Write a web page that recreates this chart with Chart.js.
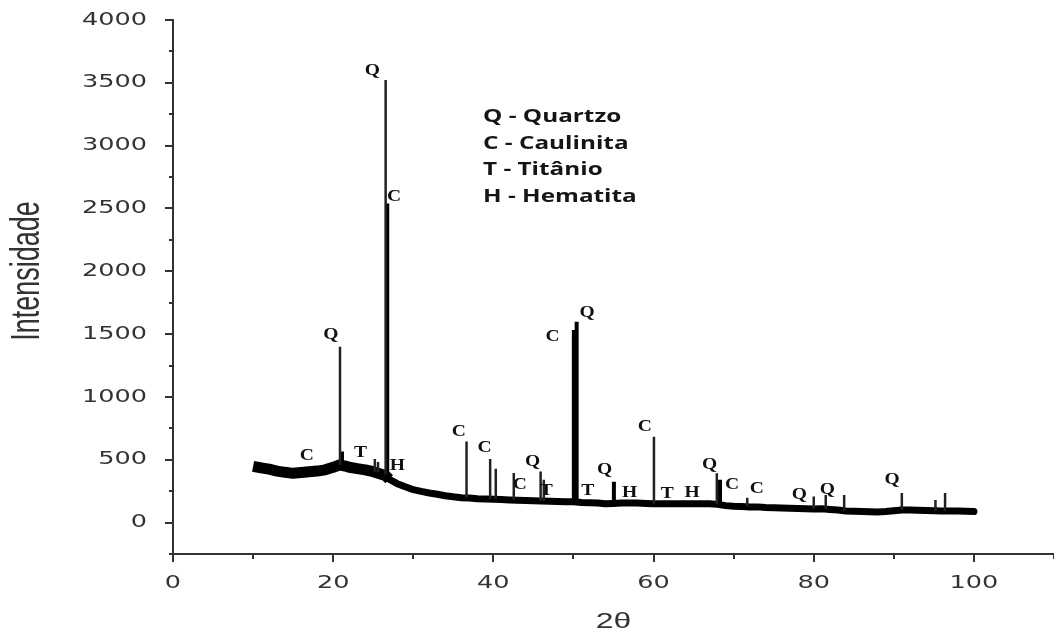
<!DOCTYPE html>
<html>
<head>
  <meta charset="UTF-8">
  <title>DRX</title>
  <script src="https://cdn.jsdelivr.net/npm/chart.js@4.4.1/dist/chart.umd.min.js"></script>
  <style>
    body { margin: 0; background: #fff; }
    #wrap { width: 1054px; height: 637px; }
  </style>
</head>
<body>
  <div id="wrap"><canvas id="myChart" width="1054" height="637"></canvas></div>

<script type="text/javascript">
  // baseline (2θ, intensity), low angle part (noisier, wider band)
  var baseX1 = [10, 10.5, 11, 12, 13, 14, 15, 16, 17, 18, 19, 20, 20.8, 21.5, 22, 23, 24, 25, 26, 26.5, 27];
  var baseY1 = [448, 442, 436, 425, 410, 400, 392, 398, 405, 410, 420, 440, 460, 450, 440, 430, 420, 405, 385, 375, 345];
  // high angle part
  var baseX2 = [27, 28, 29, 30, 31, 32, 33, 34, 35, 36, 37, 38, 39, 40, 41, 42, 43, 44, 45, 46, 47, 48, 49, 50,
    51, 52, 53, 54, 55, 56, 57, 58, 59, 60, 61, 62, 63, 64, 65, 66, 67, 68, 69, 70, 71, 72, 73, 74,
    75, 76, 77, 78, 79, 80, 81, 82, 83, 84, 85, 86, 87, 88, 89, 90, 91, 92, 93, 94, 95, 96, 97, 98, 99, 100];
  var baseY2 = [345, 310, 285, 262, 248, 236, 226, 214, 205, 198, 195, 190, 188, 185, 183, 180, 178, 176, 174, 172, 170, 168, 166, 165,
    160, 157, 155, 150, 152, 155, 155, 155, 152, 150, 150, 150, 150, 150, 150, 150, 150, 145, 135, 130, 128, 125, 125, 120,
    118, 117, 115, 112, 110, 108, 110, 105, 100, 93, 90, 88, 86, 85, 88, 95, 100, 100, 98, 96, 95, 93, 92, 92, 90, 88];

  // sharp reflections
  var peakX    = [20.85, 25.2, 25.6, 26.55, 36.65, 39.6, 40.3, 42.55, 45.9, 46.3, 60.05, 67.9, 71.7, 80.0, 81.5, 83.8, 91.0, 95.2, 96.4];
  var peakTop  = [1400, 507, 483, 3522, 645, 507, 428, 395, 406, 340, 684, 393, 197, 207, 220, 220, 236, 180, 236];
  var peakBase = [460, 405, 400, 380, 198, 188, 185, 180, 172, 172, 150, 145, 128, 108, 110, 93, 100, 95, 93];

  // strong / overlapped reflections
  var strongX    = [21.1, 26.75, 50.05, 50.4, 55.05, 68.3];
  var strongTop  = [565, 2540, 1532, 1599, 326, 340];
  var strongBase = [455, 375, 165, 165, 152, 145];

  var xTicks = [0, 20, 40, 60, 80, 100];
  var yTicks = [0, 500, 1000, 1500, 2000, 2500, 3000, 3500, 4000];

  // phase letters (text, 2θ, intensity)
  var phaseText = ['C', 'Q', 'T', 'Q', 'C', 'H', 'C', 'C', 'C', 'Q', 'T', 'C', 'Q', 'T', 'Q', 'H', 'C', 'T', 'H', 'Q', 'C', 'C', 'Q', 'Q', 'Q'];
  var phaseX = [16.7, 19.7, 23.4, 24.9, 27.6, 28.0, 35.7, 38.9, 43.3, 44.9, 46.6, 47.4, 51.7, 51.8, 53.9, 57.0, 58.9, 61.7, 64.8, 67.0, 69.8, 72.9, 78.2, 81.7, 89.8];
  var phaseY = [535, 1493, 555, 3600, 2597, 450, 722, 595, 300, 485, 255, 1478, 1669, 255, 420, 240, 762, 233, 240, 459, 300, 268, 220, 265, 340];

  var legendLines = ['Q - Quartzo', 'C - Caulinita', 'T - Titânio', 'H - Hematita'];

  function lineData(xs, tops, bases) {
    var pts = [];
    for (var i = 0; i < xs.length; i++) {
      pts.push({ x: xs[i], y: bases[i] });
      pts.push({ x: xs[i], y: tops[i] });
      pts.push({ x: xs[i], y: null });
    }
    return pts;
  }

  function xyData(xs, ys) {
    var pts = [];
    for (var i = 0; i < xs.length; i++) {
      pts.push({ x: xs[i], y: ys[i] });
    }
    return pts;
  }

  // stretched text helper (reference image is widened horizontally)
  function sText(ctx, txt, x, y, sx, align, base) {
    ctx.save();
    ctx.translate(x, y);
    ctx.scale(sx, 1);
    ctx.textAlign = align;
    ctx.textBaseline = base;
    ctx.fillText(txt, 0, 0);
    ctx.restore();
  }

  var decor = {
    id: 'decor',
    afterDraw: function (chart) {
      var ctx = chart.ctx;
      var xs = chart.scales.x, ys = chart.scales.y;
      ctx.save();

      // minor ticks
      ctx.strokeStyle = '#333';
      ctx.lineWidth = 2;
      ctx.beginPath();
      for (var v = -250; v <= 4000; v += 500) {
        var py = Math.round(ys.getPixelForValue(v));
        ctx.moveTo(xs.left - 4, py);
        ctx.lineTo(xs.left, py);
      }
      for (var u = 10; u <= 110; u += 20) {
        var px = Math.round(xs.getPixelForValue(u));
        ctx.moveTo(px, ys.bottom);
        ctx.lineTo(px, ys.bottom + 5);
      }
      ctx.stroke();

      // tick labels
      ctx.fillStyle = '#333';
      ctx.font = '18px "DejaVu Sans", sans-serif';
      yTicks.forEach(function (t) {
        sText(ctx, String(t), 147, ys.getPixelForValue(t), 1.42, 'right', 'middle');
      });
      xTicks.forEach(function (t) {
        sText(ctx, String(t), xs.getPixelForValue(t), 583, 1.42, 'center', 'middle');
      });

      // axis titles
      ctx.fillStyle = '#333';
      ctx.font = '22px "Liberation Sans", Arial, sans-serif';
      sText(ctx, '2θ', (xs.left + xs.right) / 2, 622, 1.45, 'center', 'middle');
      ctx.save();
      ctx.translate(28, 271);
      ctx.rotate(-Math.PI / 2);
      ctx.scale(1, 1.5);
      ctx.font = '27px "Liberation Sans", Arial, sans-serif';
      ctx.textAlign = 'center';
      ctx.textBaseline = 'middle';
      ctx.fillText('Intensidade', 0, 0);
      ctx.restore();

      // legend block
      ctx.fillStyle = '#151515';
      ctx.font = 'bold 17px "Open Sans", sans-serif';
      legendLines.forEach(function (s, k) {
        sText(ctx, s, 483, 117 + k * 26.7, 1.43, 'left', 'middle');
      });

      // phase letters
      ctx.fillStyle = '#111';
      ctx.font = 'bold 17px "Liberation Serif", serif';
      for (var j = 0; j < phaseText.length; j++) {
        sText(ctx, phaseText[j], xs.getPixelForValue(phaseX[j]), ys.getPixelForValue(phaseY[j]), 1.15, 'center', 'middle');
      }
      ctx.restore();
    }
  };

  var ctx = document.getElementById('myChart');
  var myChart = new Chart(ctx, {
    type: 'line',
    data: {
      datasets: [{
        label: 'picos',
        data: lineData(peakX, peakTop, peakBase),
        borderColor: '#222',
        borderWidth: 2.5,
        borderCapStyle: 'butt',
        pointRadius: 0,
        spanGaps: false,
        tension: 0
      }, {
        label: 'picos fortes',
        data: lineData(strongX, strongTop, strongBase),
        borderColor: '#000',
        borderWidth: 4,
        borderCapStyle: 'butt',
        pointRadius: 0,
        spanGaps: false,
        tension: 0
      }, {
        label: 'linha base (baixo ângulo)',
        data: xyData(baseX1, baseY1),
        borderColor: '#000',
        borderWidth: 11,
        borderJoinStyle: 'round',
        borderCapStyle: 'butt',
        pointRadius: 0,
        tension: 0
      }, {
        label: 'linha base',
        data: xyData(baseX2, baseY2),
        borderColor: '#000',
        borderWidth: 7,
        borderJoinStyle: 'round',
        borderCapStyle: 'round',
        pointRadius: 0,
        tension: 0
      }]
    },
    options: {
      responsive: false,
      animation: false,
      devicePixelRatio: 1,
      layout: { padding: { top: 20, right: 0, left: 0, bottom: 0 } },
      plugins: {
        legend: { display: false },
        tooltip: { enabled: false }
      },
      scales: {
        x: {
          type: 'linear',
          min: 0,
          max: 110,
          afterBuildTicks: function (scale) {
            scale.ticks = xTicks.map(function (v) { return { value: v }; });
          },
          afterFit: function (scale) { scale.height = 83; },
          grid: { display: true, drawOnChartArea: false, drawTicks: true, tickLength: 8, color: '#333', lineWidth: 2 },
          border: { display: true, color: '#333', width: 2 },
          ticks: { callback: function () { return ''; } }
        },
        y: {
          type: 'linear',
          min: -250,
          max: 4000,
          afterBuildTicks: function (scale) {
            scale.ticks = yTicks.map(function (v) { return { value: v }; });
          },
          afterFit: function (scale) { scale.width = 173; },
          grid: { display: true, drawOnChartArea: false, drawTicks: true, tickLength: 8, color: '#333', lineWidth: 2 },
          border: { display: true, color: '#333', width: 2 },
          ticks: { callback: function () { return ''; } }
        }
      }
    },
    plugins: [decor]
  });
</script>
</body>
</html>
